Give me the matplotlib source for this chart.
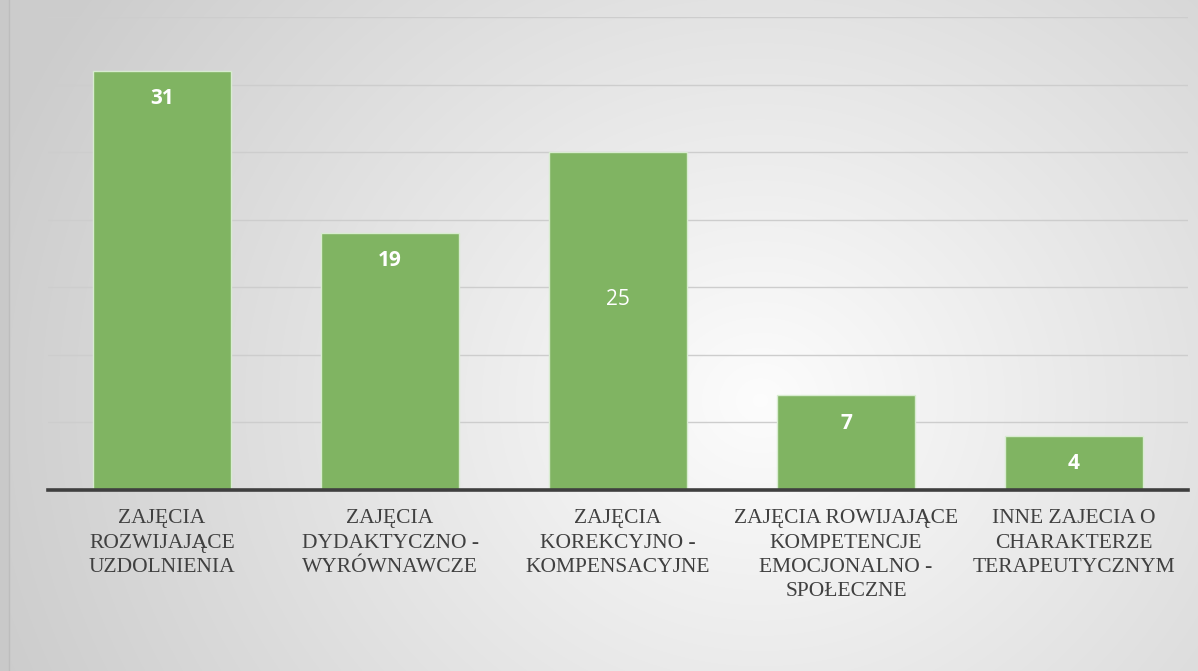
import numpy as np
import matplotlib.pyplot as plt
from matplotlib.patches import Rectangle

categories = [
    "ZAJĘCIA\nROZWIJAJĄCE\nUZDOLNIENIA",
    "ZAJĘCIA\nDYDAKTYCZNO -\nWYRÓWNAWCZE",
    "ZAJĘCIA\nKOREKCYJNO -\nKOMPENSACYJNE",
    "ZAJĘCIA ROWIJAJĄCE\nKOMPETENCJE\nEMOCJONALNO -\nSPOŁECZNE",
    "INNE ZAJECIA O\nCHARAKTERZE\nTERAPEUTYCZNYM",
]
values = [31, 19, 25, 7, 4]
y_ticks = [0, 5, 10, 15, 20, 25, 30, 35]

W, H = 1198, 671
fig = plt.figure(figsize=(W / 100, H / 100), dpi=100)

# radial grey-to-white backdrop
bg = fig.add_axes([0, 0, 1, 1])
yy, xx = np.mgrid[0:H, 0:W]
cx, cy = 760, 400
r = np.sqrt(((xx - cx) / 1.0) ** 2 + ((yy - cy) / 0.9) ** 2)
t = np.clip(r / 820, 0, 1) ** 1.0
shade = 0.99 - t * (0.99 - 0.80)
bg.imshow(np.dstack([shade] * 3), extent=[0, W, H, 0], aspect="auto", interpolation="bilinear")
bg.add_patch(Rectangle((0, 0), 9, H, facecolor="#c9c9c9", edgecolor="none"))
bg.plot([9, 9], [0, H], color="#bdbdbd", lw=1)
bg.set_xlim(0, W)
bg.set_ylim(H, 0)
bg.axis("off")

# plot area in pixel terms: x 48..1188, y 17..490
left, right, top, bottom = 48, 1188, 17, 490
ax = fig.add_axes([left / W, 1 - bottom / H, (right - left) / W, (bottom - top) / H])
ax.patch.set_alpha(0)
x = np.arange(len(values))
ax.bar(x, values, width=0.605, color="#80b462", edgecolor="#d8ecd0", linewidth=1.0, zorder=3)
ax.set_xlim(-0.5, len(values) - 0.5)
ax.set_ylim(0, 35)
ax.set_yticks(y_ticks)
ax.yaxis.grid(True, color="#cdcdcd", linewidth=1.0, zorder=0)
ax.tick_params(left=False, labelleft=False, bottom=False, labelbottom=False)
for s in ["left", "right", "top"]:
    ax.spines[s].set_visible(False)
ax.spines["bottom"].set_color("#3f3f3f")
ax.spines["bottom"].set_linewidth(2.6)
ax.spines["bottom"].set_zorder(4)

for i, v in enumerate(values):
    if v == 25:
        ax.text(i, v - 10.9, str(v), ha="center", va="center", color="white",
                fontsize=15, family="Open Sans", fontweight="normal", zorder=5)
    else:
        ax.text(i, v - 2.05, str(v), ha="center", va="center", color="white",
                fontsize=15, family="Open Sans", fontweight="bold", zorder=5)

for i, c in enumerate(categories):
    ax.text(i, -1.42, c, ha="center", va="top", color="#404040",
            fontsize=15.5, family="Liberation Serif", linespacing=1.38)

fig.savefig("out.png", dpi=100)
